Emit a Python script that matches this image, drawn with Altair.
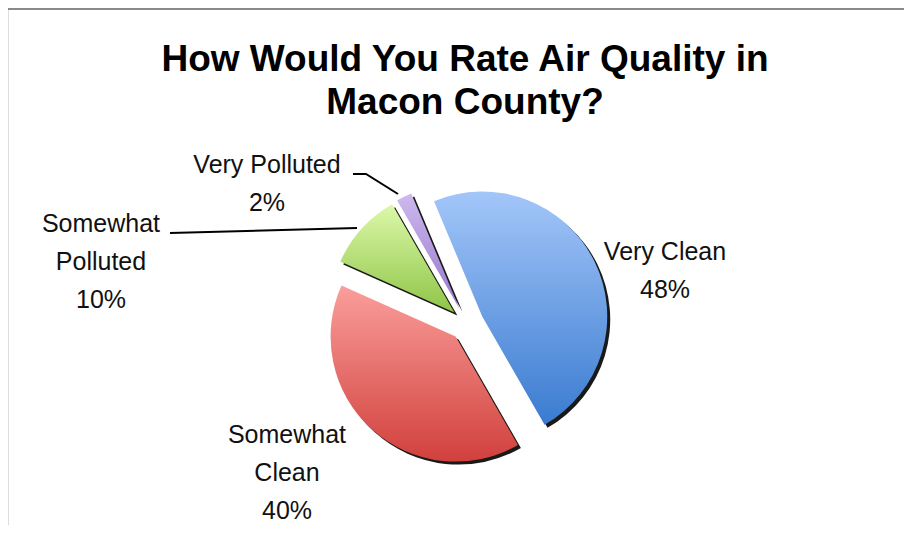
import math
import altair as alt
import pandas as pd

# ---- data ----
categories = ["Very Clean", "Somewhat Clean", "Somewhat Polluted", "Very Polluted"]
percents = [48, 40, 10, 2]
label_names = [["Very Clean"], ["Somewhat", "Clean"], ["Somewhat", "Polluted"], ["Very Polluted"]]
title_lines = ["How Would You Rate Air Quality in", "Macon County?"]

# ---- layout / style (plot-area pixels) ----
W, H = 896, 517
CX, CY = 459, 316
R = 125
EXPLODE = 17
START_DEG = 337.3
SHADOW_DX, SHADOW_DY = 3, 3
LINE_STEP = 38
LABEL_FONT = "Liberation Sans, Arial"
LABEL_SIZE = 25

gradients = {
    "Very Clean": ("#a3c6f9", "#3a7bd0"),
    "Somewhat Clean": ("#fa9e9b", "#d1403c"),
    "Somewhat Polluted": ("#dcf8aa", "#8ec546"),
    "Very Polluted": ("#cdb9ee", "#9777cc"),
}
label_anchor = {  # centre x, first baseline y
    "Very Clean": (657, 252),
    "Somewhat Clean": (279, 435),
    "Somewhat Polluted": (93, 224),
    "Very Polluted": (259, 165),
}
leaders = {
    "Very Polluted": [(345, 166), (358, 166), (390, 186)],
    "Somewhat Polluted": [(162, 225), (349, 220)],
}

# ---- tables ----
rows = []
acc = 0
for cat, p in zip(categories, percents):
    c0, c1 = acc, acc + p
    acc = c1
    mid = math.radians(START_DEG + (c0 + c1) / 2 / 100 * 360)
    cx = CX + EXPLODE * math.sin(mid)
    cy = CY - EXPLODE * math.cos(mid)
    rows.append(dict(cat=cat, value=p, c0=c0, c1=c1, cx=cx, cy=cy,
                     sx=cx + SHADOW_DX, sy=cy + SHADOW_DY))
slices = pd.DataFrame(rows)

lab_rows = []
for cat, p, names in zip(categories, percents, label_names):
    x0, y0 = label_anchor[cat]
    lines = names + [f"{p}%"]
    for i, t in enumerate(lines):
        lab_rows.append(dict(cat=cat, text=t, lx=x0, ly=y0 + i * LINE_STEP))
labels = pd.DataFrame(lab_rows)

lead_rows = []
for cat, pts in leaders.items():
    for i, (x, y) in enumerate(pts):
        lead_rows.append(dict(cat=cat, i=i, lx=x, ly=y))
lead_df = pd.DataFrame(lead_rows)

title_df = pd.DataFrame(dict(text=title_lines, lx=[457, 457], ly=[63, 106]))

xs = alt.Scale(domain=[0, W], range=[0, W], nice=False, zero=False)
ys = alt.Scale(domain=[0, H], range=[0, H], nice=False, zero=False)
t0 = math.radians(START_DEG)
ts = alt.Scale(domain=[0, 100], range=[t0, t0 + 2 * math.pi])

layers = []

# frame lines
frame = pd.DataFrame(dict(k=[0]))
layers.append(alt.Chart(frame).mark_rule(color="#8a8a8a", strokeWidth=2).encode(
    x=alt.value(-1), x2=alt.value(W + 20), y=alt.value(1)))
layers.append(alt.Chart(frame).mark_rule(color="#8a8a8a", strokeWidth=2).encode(
    y=alt.value(0), y2=alt.value(H + 20), x=alt.value(-1)))

# shadows
layers.append(alt.Chart(slices).mark_arc(radius=R, fill="#000000", opacity=0.9).encode(
    theta=alt.Theta("c0:Q", scale=ts), theta2="c1:Q",
    x=alt.X("sx:Q", scale=xs, axis=None), y=alt.Y("sy:Q", scale=ys, axis=None)))

# slices with gradients
for cat in categories:
    top, bot = gradients[cat]
    grad = alt.LinearGradient(gradient="linear", x1=0, y1=0, x2=0, y2=1,
                              stops=[alt.GradientStop(color=top, offset=0),
                                     alt.GradientStop(color=bot, offset=1)])
    layers.append(alt.Chart(slices).transform_filter(alt.datum.cat == cat).mark_arc(
        radius=R, fill=grad).encode(
        theta=alt.Theta("c0:Q", scale=ts), theta2="c1:Q",
        x=alt.X("cx:Q", scale=xs, axis=None), y=alt.Y("cy:Q", scale=ys, axis=None)))

# leader lines
layers.append(alt.Chart(lead_df).mark_line(color="#000000", strokeWidth=2).encode(
    x=alt.X("lx:Q", scale=xs, axis=None), y=alt.Y("ly:Q", scale=ys, axis=None),
    detail="cat:N", order="i:Q"))

# labels
layers.append(alt.Chart(labels).mark_text(
    font=LABEL_FONT, fontSize=LABEL_SIZE, color="#111111", align="center",
    baseline="alphabetic").encode(
    x=alt.X("lx:Q", scale=xs, axis=None), y=alt.Y("ly:Q", scale=ys, axis=None),
    text="text:N"))

# title
layers.append(alt.Chart(title_df).mark_text(
    font="Liberation Sans, Arial", fontSize=37, fontWeight="bold", color="#000000",
    align="center", baseline="alphabetic").encode(
    x=alt.X("lx:Q", scale=xs, axis=None), y=alt.Y("ly:Q", scale=ys, axis=None),
    text="text:N"))

chart = alt.layer(*layers).properties(
    width=W, height=H, padding=0, autosize=alt.AutoSizeParams(type="none")
).configure_view(stroke=None).configure(background="#ffffff")

chart.save("out.html", embed_options={"renderer": "svg", "actions": False})
